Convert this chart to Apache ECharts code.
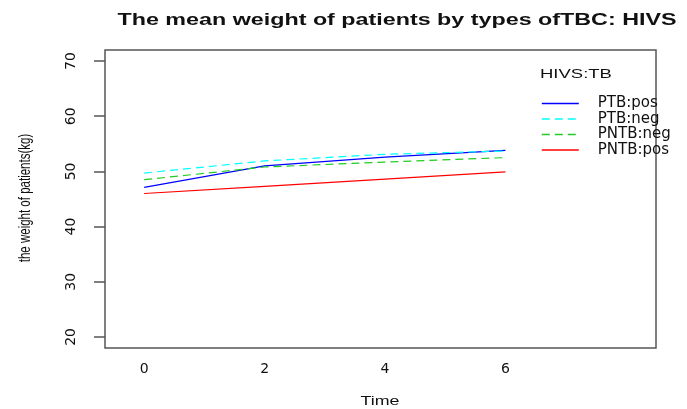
<!DOCTYPE html>
<html>
<head>
<meta charset="utf-8">
<script src="https://cdn.jsdelivr.net/npm/echarts@6/dist/echarts.min.js"></script>
<style>
  html, body { margin: 0; padding: 0; background: #fff; }
  #chart { width: 687px; height: 409px; }
</style>
</head>
<body>
<div id="chart"></div>
<script>
// Mean patient weight over time, one line per HIVS:TB group
const times = [0, 2, 4, 6];
const ptbPos = [47.1, 51.0, 52.6, 53.8];
const ptbNeg = [49.7, 51.9, 53.1, 53.7];
const pntbNeg = [48.5, 50.8, 51.7, 52.5];
const pntbPos = [46.0, 47.3, 48.6, 49.9];

const groupNames = ['PTB:pos', 'PTB:neg', 'PNTB:neg', 'PNTB:pos'];
const groupValues = [ptbPos, ptbNeg, pntbNeg, pntbPos];
const groupColors = ['#0000ff', '#00ffff', '#22cc22', '#ff0000'];
const groupDash = ['solid', [8, 5], [8, 5], 'solid'];

const xTicks = [0, 2, 4, 6];
const yTicks = [20, 30, 40, 50, 60, 70];

const chart = echarts.init(document.getElementById('chart'), null, { renderer: 'canvas' });

const series = groupNames.map((name, i) => ({
  name: name,
  type: 'line',
  data: times.map((t, k) => [t, groupValues[i][k]]),
  symbol: 'none',
  showSymbol: false,
  animation: false,
  lineStyle: { color: groupColors[i], width: 1.2, type: groupDash[i] },
  itemStyle: { color: groupColors[i] }
}));

const wide = 1.37; // horizontal stretch of the text

chart.setOption({
  backgroundColor: '#ffffff',
  animation: false,
  grid: {
    left: 105, top: 50, right: 31, bottom: 61,
    show: true, borderColor: '#555', borderWidth: 1.5, backgroundColor: 'transparent'
  },
  xAxis: {
    type: 'value', min: -0.65, max: 8.5,
    axisLine: { show: false, onZero: false },
    axisTick: { show: false },
    splitLine: { show: false },
    axisLabel: {
      customValues: xTicks, margin: 14,
      fontFamily: 'DejaVu Sans', fontSize: 14, color: '#111'
    }
  },
  yAxis: {
    type: 'value', min: 18, max: 72,
    axisLine: { show: false, onZero: false },
    splitLine: { show: false },
    axisTick: {
      show: true, customValues: yTicks, length: 11,
      lineStyle: { color: '#555', width: 1.5 }
    },
    axisLabel: {
      customValues: yTicks, rotate: 90, margin: 27,
      fontFamily: 'DejaVu Sans', fontSize: 14, color: '#111'
    }
  },
  legend: {
    orient: 'vertical', left: 541, top: 96, padding: 0,
    itemWidth: 37, itemHeight: 15, itemGap: 0.5,
    itemStyle: { opacity: 0 },
    lineStyle: { width: 1.6, color: 'inherit', type: 'inherit' },
    textStyle: {
      fontFamily: 'DejaVu Sans', fontSize: 15, color: '#111',
      lineHeight: 15, padding: [0, 0, 0, 14]
    },
    data: groupNames
  },
  graphic: [
    {
      type: 'text', x: 397, y: 20, scaleX: wide, silent: true,
      style: {
        text: 'The mean weight of patients by types ofTBC: HIVS',
        fontFamily: 'Liberation Sans', fontWeight: 'bold', fontSize: 17,
        fill: '#111', textAlign: 'center', textVerticalAlign: 'middle'
      }
    },
    {
      type: 'text', x: 380, y: 401, scaleX: wide, silent: true,
      style: {
        text: 'Time', fontFamily: 'Liberation Sans', fontSize: 13,
        fill: '#111', textAlign: 'center', textVerticalAlign: 'middle'
      }
    },
    {
      type: 'text', x: 26, y: 198, rotation: Math.PI / 2, scaleY: wide, silent: true,
      style: {
        text: 'the weight of patients(kg)', fontFamily: 'Liberation Sans', fontSize: 11.5,
        fill: '#111', textAlign: 'center', textVerticalAlign: 'middle'
      }
    },
    {
      type: 'text', x: 540, y: 74, scaleX: wide, silent: true,
      style: {
        text: 'HIVS:TB', fontFamily: 'Liberation Sans', fontSize: 13.5,
        fill: '#111', textAlign: 'left', textVerticalAlign: 'middle'
      }
    }
  ],
  series: series
});
</script>
</body>
</html>
